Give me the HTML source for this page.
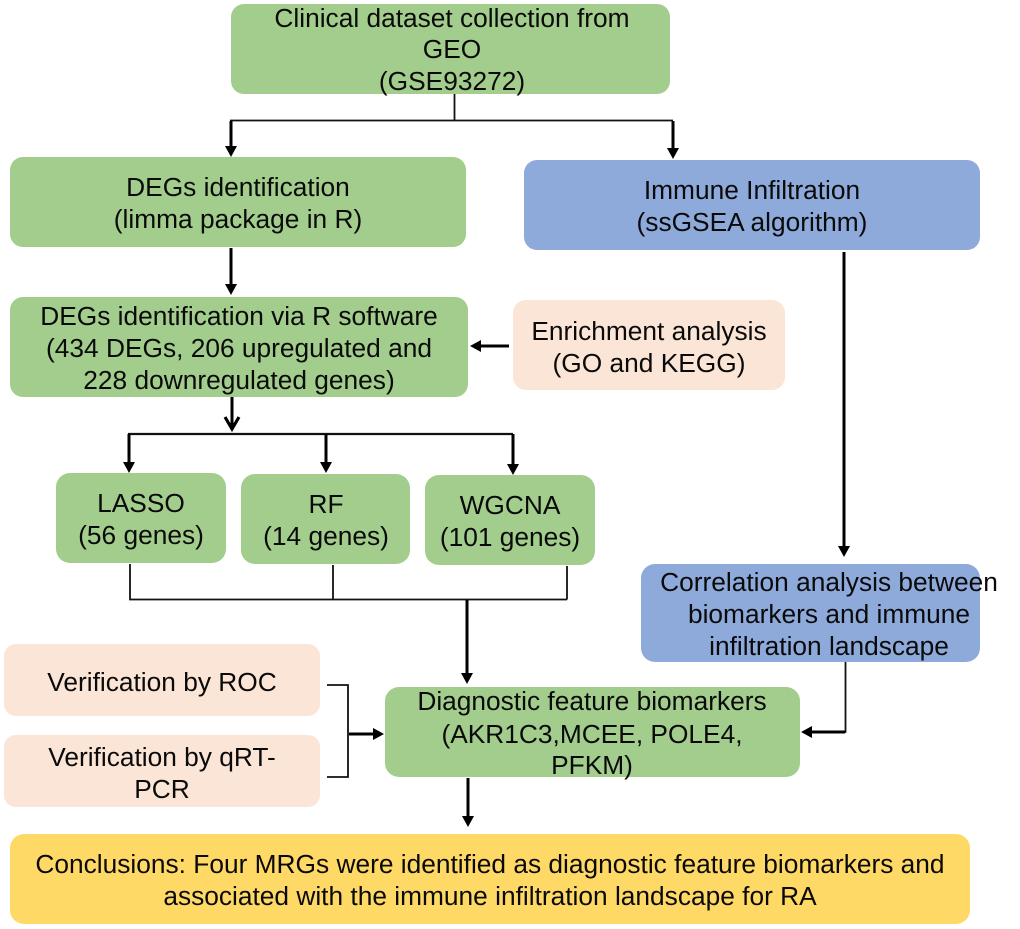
<!DOCTYPE html>
<html><head><meta charset="utf-8">
<style>
html,body{margin:0;padding:0;background:#fff}
svg{display:block}
text{font-family:"Liberation Sans",Arial,sans-serif;font-size:26.3px;fill:#0a0a0a;text-anchor:middle}
</style></head><body>
<svg width="1020" height="929" viewBox="0 0 1020 929" xmlns="http://www.w3.org/2000/svg">
<defs>
<polygon id="d" points="-6,-11 6,-11 0,0" fill="#000"/>
</defs>
<g fill="#a3cd8c">
<rect x="231" y="4" width="439" height="90" rx="13"/>
<rect x="10" y="157" width="456" height="90" rx="13"/>
<rect x="10" y="297" width="458" height="100" rx="13"/>
<rect x="56" y="473" width="170" height="90" rx="14"/>
<rect x="241" y="474" width="169" height="90" rx="14"/>
<rect x="425" y="475" width="170" height="90" rx="14"/>
<rect x="385" y="687" width="415" height="90" rx="14"/>
</g>
<g fill="#8eaadb">
<rect x="524" y="160" width="456" height="90" rx="13"/>
<rect x="641" y="564" width="339" height="98" rx="14"/>
</g>
<g fill="#fbe5d6">
<rect x="513" y="300" width="272" height="90" rx="13"/>
<rect x="4" y="644" width="316" height="72" rx="12"/>
<rect x="4" y="735" width="316" height="72" rx="12"/>
</g>
<rect x="10" y="834" width="960" height="90" rx="14" fill="#ffd966"/>

<g fill="none" stroke="#111" stroke-width="1.8">
<path d="M454.500 94V120.500M230 120.500H673"/>
<path d="M128 434H513" stroke-width="2.200"/>
<path d="M130 564V599.500H567M333 565V599.500M567 566V599.500"/>
<path d="M327 685H348V777H327"/>
<path d="M845.500 662V732H810"/>
</g>
<g fill="none" stroke="#000" stroke-width="3">
<path d="M231 121V147"/><path d="M673 121V149"/>
<path d="M231 248V285"/>
<path d="M844 252V547"/>
<path d="M129 434V463"/><path d="M326 434V463"/><path d="M513 434V465"/>
<path d="M467 600V673"/>
<path d="M468 778V817"/>
<path d="M349 734H374"/>
<path d="M509 346H480"/>
<path d="M845 732H811"/>
<path d="M232 397V428"/>
<path d="M225 417L232 429L239 417" stroke-width="3.200"/>
</g>
<use href="#d" x="231" y="157"/>
<use href="#d" x="673" y="159"/>
<use href="#d" x="231" y="295"/>
<use href="#d" x="844" y="557"/>
<use href="#d" x="129" y="473"/>
<use href="#d" x="326" y="473"/>
<use href="#d" x="513" y="475"/>
<use href="#d" x="467" y="684"/>
<use href="#d" x="468" y="827"/>
<polygon points="384,734 373,728 373,740" fill="#000"/>
<polygon points="470,346 481,340 481,352" fill="#000"/>
<polygon points="801,732 812,726 812,738" fill="#000"/>

<text x="452" y="27">Clinical dataset collection from</text>
<text x="452" y="58">GEO</text>
<text x="452" y="90">(GSE93272)</text>
<text x="238" y="196">DEGs identification</text>
<text x="238" y="228">(limma package in R)</text>
<text x="752" y="199">Immune Infiltration</text>
<text x="752" y="231">(ssGSEA algorithm)</text>
<text x="239" y="325">DEGs identification via R software</text>
<text x="239" y="357">(434 DEGs, 206 upregulated and</text>
<text x="239" y="389">228 downregulated genes)</text>
<text x="649" y="340">Enrichment analysis</text>
<text x="649" y="372">(GO and KEGG)</text>
<text x="141" y="512">LASSO</text>
<text x="141" y="544">(56 genes)</text>
<text x="326" y="513">RF</text>
<text x="326" y="545">(14 genes)</text>
<text x="510" y="514">WGCNA</text>
<text x="510" y="546">(101 genes)</text>
<text x="829" y="591">Correlation analysis between</text>
<text x="829" y="623">biomarkers and immune</text>
<text x="829" y="655">infiltration landscape</text>
<text x="162" y="691">Verification by ROC</text>
<text x="162" y="766">Verification by qRT-</text>
<text x="162" y="798">PCR</text>
<text x="592" y="710">Diagnostic feature biomarkers</text>
<text x="592" y="743">(AKR1C3,MCEE, POLE4,</text>
<text x="592" y="774">PFKM)</text>
<text x="490" y="873">Conclusions: Four MRGs were identified as diagnostic feature biomarkers and</text>
<text x="490" y="905">associated with the immune infiltration landscape for RA</text>
</svg>
</body></html>
